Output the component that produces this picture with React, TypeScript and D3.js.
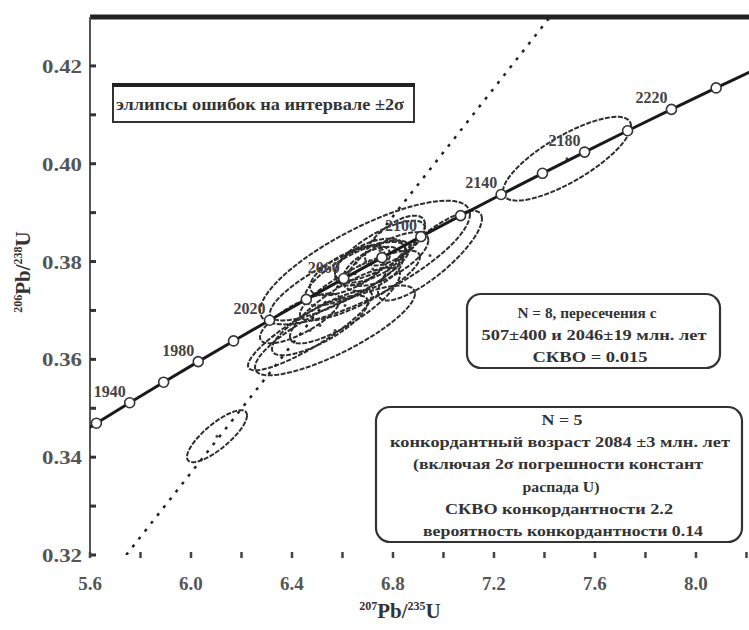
import React from "react";
import * as d3 from "d3";

// Concordia markers (age, Ma) and ratios
const ages = [1900, 1920, 1940, 1960, 1980, 2000, 2020, 2040, 2060, 2080, 2100, 2120, 2140, 2160, 2180, 2200, 2220, 2240, 2260];
const x207 = [5.4962, 5.6254, 5.7572, 5.8916, 6.0287, 6.1685, 6.3111, 6.4566, 6.6049, 6.7562, 6.9105, 7.0678, 7.2283, 7.392, 7.5589, 7.7291, 7.9028, 8.0799, 8.2605];
const y206 = [0.34277, 0.34695, 0.35113, 0.35533, 0.35954, 0.36377, 0.368, 0.37226, 0.37652, 0.3808, 0.38509, 0.38939, 0.39371, 0.39804, 0.40238, 0.40674, 0.41111, 0.4155, 0.4199];
const labelAges = [1940, 1980, 2020, 2060, 2100, 2140, 2180, 2220];

// Error ellipses: centre, 2σ half-widths, correlation
const ellX = [6.103, 7.4891, 6.6891, 6.9465, 6.4713, 6.5109, 6.6099, 6.6693, 6.6297, 6.7089, 6.7485, 6.5901, 6.8079, 6.6693, 6.4317, 6.5703, 6.72, 6.78, 6.65];
const ellY = [0.34429, 0.40102, 0.3798, 0.38122, 0.36592, 0.36694, 0.37102, 0.3751, 0.37816, 0.3802, 0.38224, 0.37612, 0.38429, 0.37918, 0.36837, 0.36592, 0.3785, 0.3805, 0.3775];
const ellSX = [0.1188, 0.2535, 0.4158, 0.2059, 0.2455, 0.1901, 0.2178, 0.2376, 0.1584, 0.1386, 0.1782, 0.2772, 0.1188, 0.099, 0.1584, 0.3168, 0.12, 0.16, 0.2];
const ellSY = [0.00531, 0.00857, 0.01265, 0.00918, 0.00816, 0.00612, 0.00776, 0.00714, 0.0051, 0.00449, 0.00612, 0.00816, 0.0051, 0.00408, 0.0051, 0.00918, 0.0045, 0.0055, 0.0065];
const ellRho = [0.8, 0.78, 0.78, 0.82, 0.88, 0.78, 0.82, 0.82, 0.65, 0.55, 0.75, 0.82, 0.65, 0.45, 0.75, 0.82, 0.5, 0.7, 0.75];

// Discordia endpoints
const discX = [5.7434, 7.4218];
const discY = [0.32, 0.43];

const xTicksMajor = [5.6, 6.0, 6.4, 6.8, 7.2, 7.6, 8.0];
const xTicksMinor = [5.8, 6.2, 6.6, 7.0, 7.4, 7.8, 8.2];
const yTicksMajor = [0.32, 0.34, 0.36, 0.38, 0.4, 0.42];
const yTicksMinor = [0.33, 0.35, 0.37, 0.39, 0.41];

const box1Text = ["эллипсы ошибок на интервале ±2σ"];
const box2Text = ["N = 8, пересечения с", "507±400 и 2046±19 млн. лет", "СКВО = 0.015"];
const box2Width = [139, 225, 115];
const box2Center = [587, 594, 590];
const box3Text = [
  "N = 5",
  "конкордантный возраст 2084 ±3 млн. лет",
  "(включая 2σ погрешности констант",
  "распада U)",
  "СКВО конкордантности 2.2",
  "вероятность конкордантности 0.14",
];
const box3Width = [41, 340, 290, 77, 228, 280];
const box3Center = [562, 560, 558, 561, 559, 563];

const W = 749;
const H = 630;
const left = 90;
const right = 749;
const top = 17;
const bottom = 555;

export default function App() {
  const x = d3.scaleLinear().domain([5.6, 8.21]).range([left, right]);
  const y = d3.scaleLinear().domain([0.32, 0.43]).range([bottom, top]);

  const conc = ages.map((a, i) => [x207[i], y206[i]] as [number, number]);
  const line = d3
    .line<[number, number]>()
    .x((d) => x(d[0]))
    .y((d) => y(d[1]))
    .curve(d3.curveCatmullRom);

  const ellPath = (i: number) => {
    const n = 90;
    const pts: [number, number][] = [];
    const r = ellRho[i];
    for (let k = 0; k < n; k++) {
      const t = (2 * Math.PI * k) / n;
      const dx = ellSX[i] * Math.cos(t);
      const dy = ellSY[i] * (r * Math.cos(t) + Math.sqrt(1 - r * r) * Math.sin(t));
      pts.push([ellX[i] + dx, ellY[i] + dy]);
    }
    return d3
      .line<[number, number]>()
      .x((d) => x(d[0]))
      .y((d) => y(d[1]))
      .curve(d3.curveLinearClosed)(pts);
  };

  const serif = "'Liberation Serif', 'DejaVu Serif', serif";

  return (
    <svg
      width={W}
      height={H}
      style={{ position: "absolute", left: 0, top: 0, background: "#fff" }}
      fontFamily={serif}
    >
      <defs>
        <clipPath id="plot">
          <rect x={left} y={top} width={right - left} height={bottom - top} />
        </clipPath>
      </defs>

      {/* axes frame */}
      <line x1={left} x2={right} y1={top} y2={top} stroke="#222" strokeWidth={5} />
      <line x1={left} x2={left} y1={top} y2={bottom} stroke="#555" strokeWidth={2} />

      {/* y ticks */}
      {yTicksMajor.concat(yTicksMinor).map((v, i) => (
        <line key={"yt" + i} x1={left} x2={left + 6} y1={y(v)} y2={y(v)} stroke="#333" strokeWidth={3} />
      ))}
      {yTicksMajor.map((v, i) => (
        <text
          key={"yl" + i}
          x={left - 8}
          y={y(v) + 7}
          textAnchor="end"
          fontSize={19}
          fontWeight="bold"
          fill="#555"
          textLength={40}
          lengthAdjust="spacingAndGlyphs"
        >
          {v.toFixed(2)}
        </text>
      ))}

      {/* x ticks */}
      {xTicksMajor.concat(xTicksMinor).map((v, i) => (
        <line key={"xt" + i} x1={x(v)} x2={x(v)} y1={bottom - 3} y2={bottom + 3} stroke="#444" strokeWidth={2.5} />
      ))}
      {xTicksMajor.map((v, i) => (
        <text key={"xl" + i} x={x(v)} y={590} textAnchor="middle" fontSize={19} fontWeight="bold" fill="#555">
          {v.toFixed(1)}
        </text>
      ))}

      {/* axis titles */}
      <text x={400} y={618} textAnchor="middle" fontSize={21} fontWeight="bold" fill="#333">
        <tspan fontSize={12} dy={-8}>207</tspan>
        <tspan dy={8}>Pb/</tspan>
        <tspan fontSize={12} dy={-8}>235</tspan>
        <tspan dy={8}>U</tspan>
      </text>
      <text
        transform="translate(30,272) rotate(-90)"
        textAnchor="middle"
        fontSize={21}
        fontWeight="bold"
        fill="#333"
      >
        <tspan fontSize={12} dy={-8}>206</tspan>
        <tspan dy={8}>Pb/</tspan>
        <tspan fontSize={12} dy={-8}>238</tspan>
        <tspan dy={8}>U</tspan>
      </text>

      <g clipPath="url(#plot)">
        {/* discordia */}
        <line
          x1={x(discX[0])}
          y1={y(discY[0])}
          x2={x(discX[1])}
          y2={y(discY[1])}
          stroke="#222"
          strokeWidth={2.5}
          strokeDasharray="3 7"
        />
        {/* ellipses */}
        {ellX.map((_, i) => (
          <path key={"e" + i} d={ellPath(i) || ""} fill="none" stroke="#2e2e2e" strokeWidth={2} strokeDasharray="5 1.5" />
        ))}
        {ellX.map((_, i) => (
          <circle key={"c" + i} cx={x(ellX[i])} cy={y(ellY[i])} r={1.5} fill="#444" />
        ))}
        {/* concordia */}
        <path d={line(conc) || ""} fill="none" stroke="#1a1a1a" strokeWidth={3} />
        {conc.map((d, i) => (
          <circle key={"m" + i} cx={x(d[0])} cy={y(d[1])} r={5} fill="#fff" stroke="#333" strokeWidth={1.6} />
        ))}
        {labelAges.map((a) => {
          const i = ages.indexOf(a);
          return (
            <text
              key={"a" + a}
              x={x(x207[i]) - 4}
              y={y(y206[i]) - 6}
              textAnchor="end"
              fontSize={16}
              fontWeight="bold"
              fill="#444"
            >
              {a}
            </text>
          );
        })}
      </g>

      {/* box 1 */}
      <rect x={113} y={85} width={301} height={37} fill="#fff" stroke="#333" strokeWidth={2} />
      <line x1={112} x2={415} y1={85} y2={85} stroke="#222" strokeWidth={4} />
      <text x={260} y={110} textAnchor="middle" fontSize={16} fill="#333" fontWeight="bold" textLength={288} lengthAdjust="spacingAndGlyphs">
        {box1Text[0]}
      </text>

      {/* box 2 */}
      <rect x={467} y={294} width={253} height={74} rx={14} fill="#fff" stroke="#333" strokeWidth={2.2} />
      {box2Text.map((t, i) => (
        <text
          key={"b2" + i}
          x={box2Center[i]}
          y={318 + i * 22}
          textAnchor="middle"
          fontSize={15}
          fontWeight="bold"
          fill="#333"
          textLength={box2Width[i]}
          lengthAdjust="spacingAndGlyphs"
        >
          {t}
        </text>
      ))}

      {/* box 3 */}
      <rect x={376} y={407} width={366} height={135} rx={14} fill="#fff" stroke="#333" strokeWidth={2.2} />
      {box3Text.map((t, i) => (
        <text
          key={"b3" + i}
          x={box3Center[i]}
          y={425 + i * 22.2}
          textAnchor="middle"
          fontSize={15}
          fontWeight="bold"
          fill="#333"
          textLength={box3Width[i]}
          lengthAdjust="spacingAndGlyphs"
        >
          {t}
        </text>
      ))}
    </svg>
  );
}
